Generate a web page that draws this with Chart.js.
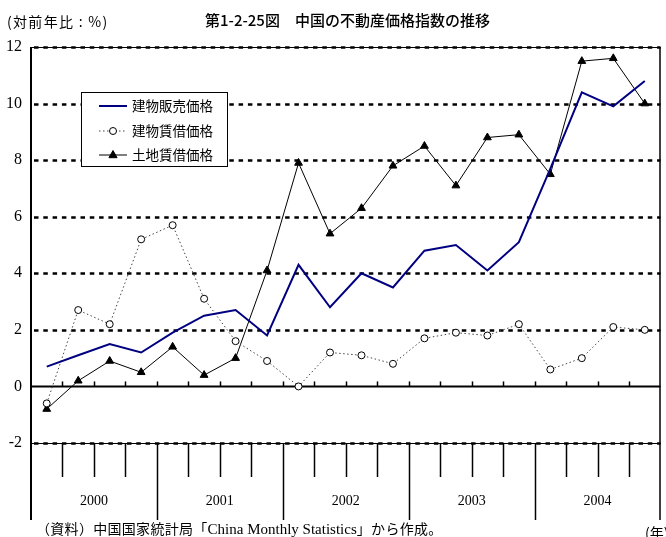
<!DOCTYPE html>
<html lang="ja">
<head>
<meta charset="utf-8">
<script src="https://cdn.jsdelivr.net/npm/chart.js@4.4.1/dist/chart.umd.min.js"></script>
<style>
  html, body { margin: 0; padding: 0; background: #fff; overflow: hidden; }
  #wrap { position: relative; width: 666px; height: 537px; overflow: hidden; }
  #chart { position: absolute; left: 0; top: 0; }
  .txt { position: absolute; white-space: nowrap; color: #000; line-height: 1; }
  #unit { left: 7px; top: 11px; font: 14px "Noto Sans CJK JP", sans-serif; letter-spacing: 1.3px; }
  #title { left: 205px; top: 9px; font: 500 15px "Noto Sans CJK JP", sans-serif; }
  #note { left: 36px; top: 518px; font: 14px "Noto Sans CJK JP", sans-serif; letter-spacing: 0.3px; }
  #note .en { font-family: "Liberation Serif", serif; font-size: 15px; letter-spacing: 0; }
  #nen { left: 645px; top: 522px; font: 14px "Noto Sans CJK JP", sans-serif; }
</style>
</head>
<body>
<div id="wrap">
  <canvas id="chart" width="666" height="537"></canvas>
  <div class="txt" id="unit">(対前年比 : %)</div>
  <div class="txt" id="title">第1-2-25図　中国の不動産価格指数の推移</div>
  <div class="txt" id="note">（資料）中国国家統計局「<span class="en">China Monthly Statistics</span>」から作成。</div>
  <div class="txt" id="nen">(年)</div>
</div>
<script>
// Data
const quarters = ['2000Q1', '2000Q2', '2000Q3', '2000Q4',
                  '2001Q1', '2001Q2', '2001Q3', '2001Q4',
                  '2002Q1', '2002Q2', '2002Q3', '2002Q4',
                  '2003Q1', '2003Q2', '2003Q3', '2003Q4',
                  '2004Q1', '2004Q2', '2004Q3', '2004Q4'];
const years = ['2000', '2001', '2002', '2003', '2004'];
const yTicks = [-2, 0, 2, 4, 6, 8, 10, 12];

const buildingSales = [0.7, 1.1, 1.5, 1.2, 1.9, 2.5, 2.7, 1.8, 4.3, 2.8,
                       4.0, 3.5, 4.8, 5.0, 4.1, 5.1, 7.7, 10.4, 9.9, 10.8];
const buildingRent = [-0.6, 2.7, 2.2, 5.2, 5.7, 3.1, 1.6, 0.9, 0.0, 1.2,
                      1.1, 0.8, 1.7, 1.9, 1.8, 2.2, 0.6, 1.0, 2.1, 2.0];
const landRent = [-0.8, 0.2, 0.9, 0.5, 1.4, 0.4, 1.0, 4.1, 7.9, 5.4,
                  6.3, 7.8, 8.5, 7.1, 8.8, 8.9, 7.5, 11.5, 11.6, 10.0];

const labelsLegend = ['建物販売価格', '建物賃借価格', '土地賃借価格'];

// Axes, dashed grid lines and the year band under the plot
const framePlugin = {
    id: 'frame',
    beforeDatasetsDraw(chart) {
        const { ctx, chartArea: a, scales: { x, y } } = chart;
        const n = quarters.length;
        const step = a.width / n;
        const bandBottom = a.bottom + 77;

        ctx.save();
        ctx.strokeStyle = '#000';

        // horizontal lines
        yTicks.forEach(v => {
            const py = Math.round(y.getPixelForValue(v)) + 0.5;
            if (v === 0) {
                ctx.setLineDash([]);
                ctx.lineWidth = 2;
                ctx.beginPath(); ctx.moveTo(a.left, py); ctx.lineTo(a.right, py); ctx.stroke();
                return;
            }
            if (v === yTicks[0] || v === yTicks[yTicks.length - 1]) {
                ctx.setLineDash([]);
                ctx.lineWidth = 1;
                ctx.beginPath(); ctx.moveTo(a.left, py); ctx.lineTo(a.right, py); ctx.stroke();
            }
            ctx.setLineDash([4.5, 4.8]);
            ctx.lineWidth = 2.6;
            ctx.beginPath(); ctx.moveTo(a.left + 3, py); ctx.lineTo(a.right, py); ctx.stroke();
        });
        ctx.setLineDash([]);

        // small ticks on the zero line, ticks and year separators under -2
        const y0 = y.getPixelForValue(0);
        const yMin = y.getPixelForValue(yTicks[0]);
        ctx.lineWidth = 1.5;
        for (let i = 1; i < n; i++) {
            const px = Math.round(x.getPixelForValue(i) - step / 2) + 0.5;
            ctx.beginPath(); ctx.moveTo(px, y0); ctx.lineTo(px, y0 - 5); ctx.stroke();
            ctx.beginPath();
            ctx.moveTo(px, yMin);
            ctx.lineTo(px, i % 4 === 0 ? bandBottom : yMin + 34);
            ctx.stroke();
        }

        // frame sides
        ctx.lineWidth = 2;
        ctx.beginPath(); ctx.moveTo(a.left, a.top); ctx.lineTo(a.left, bandBottom); ctx.stroke();
        ctx.lineWidth = 1.5;
        ctx.beginPath(); ctx.moveTo(a.right - 0.5, a.top); ctx.lineTo(a.right - 0.5, bandBottom); ctx.stroke();

        // year labels
        ctx.fillStyle = '#000';
        ctx.font = '14px "Liberation Serif", serif';
        ctx.textAlign = 'center';
        ctx.textBaseline = 'middle';
        years.forEach((yr, k) => {
            const px = x.getPixelForValue(k * 4 + 2) - step / 2;
            ctx.fillText(yr, px, a.bottom + 58);
        });
        ctx.restore();
    },
    afterDatasetsDraw(chart) {
        // legend box inside the plot
        const { ctx } = chart;
        const bx = 81.5, by = 92.5, bw = 146, bh = 74;
        const rows = [106, 131, 155];
        ctx.save();
        ctx.fillStyle = '#fff';
        ctx.fillRect(bx, by, bw, bh);
        ctx.strokeStyle = '#000';
        ctx.lineWidth = 1;
        ctx.strokeRect(bx, by, bw, bh);

        chart.data.datasets.forEach((ds, i) => {
            const ry = rows[i];
            ctx.strokeStyle = ds.borderColor;
            ctx.lineWidth = ds.borderWidth;
            ctx.setLineDash(ds.borderDash || []);
            ctx.beginPath(); ctx.moveTo(99, ry); ctx.lineTo(127, ry); ctx.stroke();
            ctx.setLineDash([]);
            if (ds.pointRadius > 0) {
                ctx.lineWidth = 1;
                ctx.strokeStyle = ds.pointBorderColor;
                ctx.fillStyle = ds.pointBackgroundColor;
                ctx.beginPath();
                if (ds.pointStyle === 'triangle') {
                    const r = ds.pointRadius;
                    ctx.moveTo(113, ry - r);
                    ctx.lineTo(113 + r * 0.9, ry + r * 0.6);
                    ctx.lineTo(113 - r * 0.9, ry + r * 0.6);
                    ctx.closePath();
                } else {
                    ctx.arc(113, ry, ds.pointRadius, 0, Math.PI * 2);
                }
                ctx.fill();
                ctx.stroke();
            }
            ctx.fillStyle = '#000';
            ctx.font = '13.5px "Noto Sans CJK JP", sans-serif';
            ctx.textAlign = 'left';
            ctx.textBaseline = 'middle';
            ctx.fillText(ds.label, 132, ry);
        });
        ctx.restore();
    }
};

new Chart(document.getElementById('chart'), {
    type: 'line',
    data: {
        labels: quarters,
        datasets: [{
            label: labelsLegend[0],
            data: buildingSales,
            borderColor: '#000080',
            borderWidth: 2,
            pointRadius: 0,
            tension: 0
        }, {
            label: labelsLegend[1],
            data: buildingRent,
            borderColor: '#444',
            borderWidth: 1,
            borderDash: [1.5, 2.5],
            pointStyle: 'circle',
            pointRadius: 3.5,
            pointBorderWidth: 1,
            pointBorderColor: '#000',
            pointBackgroundColor: '#fff',
            tension: 0
        }, {
            label: labelsLegend[2],
            data: landRent,
            borderColor: '#000',
            borderWidth: 1,
            pointStyle: 'triangle',
            pointRadius: 4.5,
            pointBorderWidth: 1,
            pointBorderColor: '#000',
            pointBackgroundColor: '#000',
            tension: 0
        }]
    },
    options: {
        responsive: false,
        animation: false,
        devicePixelRatio: 1,
        layout: { padding: { top: 47, right: 1, bottom: 94, left: 0 } },
        plugins: {
            legend: { display: false },
            tooltip: { enabled: false }
        },
        scales: {
            x: {
                type: 'category',
                offset: true,
                display: false
            },
            y: {
                min: -2,
                max: 12,
                afterFit(scale) { scale.width = 31; },
                afterBuildTicks(scale) { scale.ticks = yTicks.map(v => ({ value: v })); },
                grid: { display: false, drawTicks: false },
                border: { display: false },
                ticks: {
                    color: '#000',
                    padding: 9,
                    font: { family: '"Liberation Serif", serif', size: 16 }
                }
            }
        }
    },
    plugins: [framePlugin]
});
</script>
</body>
</html>
